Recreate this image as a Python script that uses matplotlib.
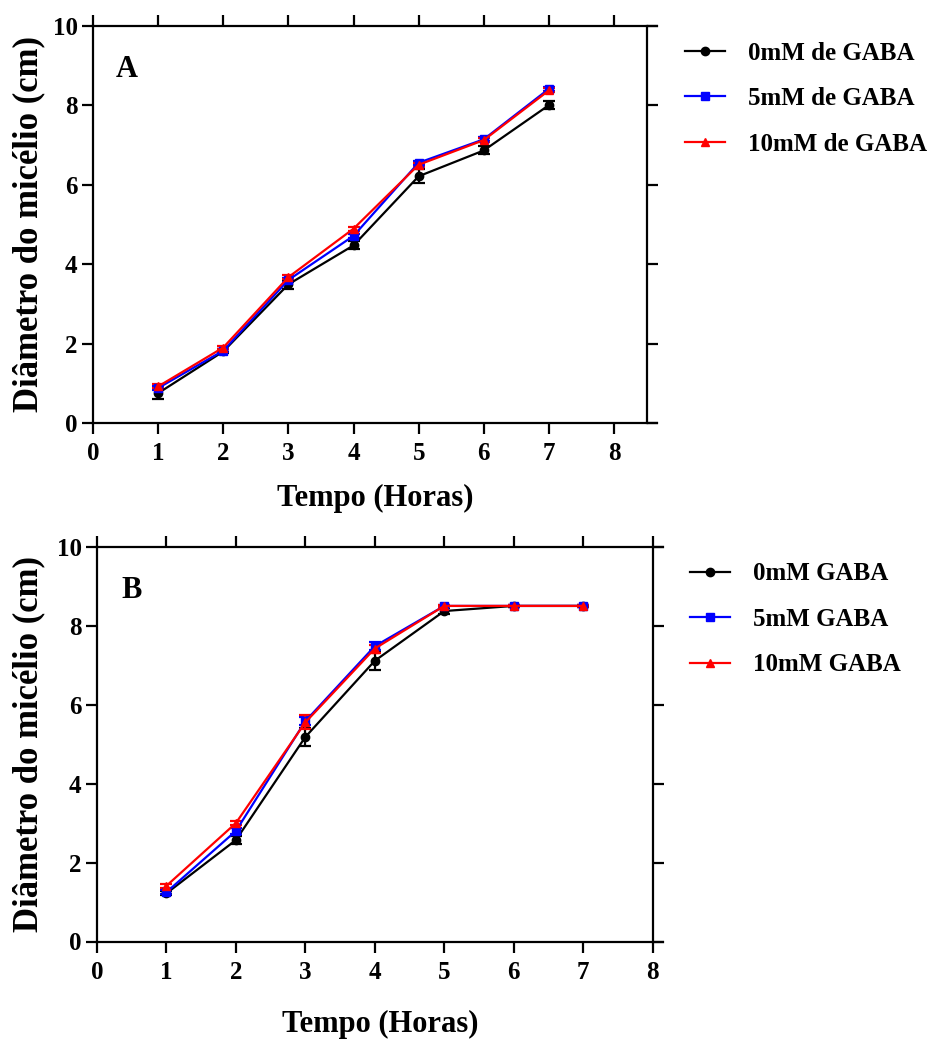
import numpy as np
import matplotlib
matplotlib.use('Agg')
import matplotlib.pyplot as plt
from matplotlib.lines import Line2D

plt.rcParams['font.family'] = ['Liberation Serif', 'DejaVu Serif']
plt.rcParams['font.weight'] = 'bold'

horas = [1, 2, 3, 4, 5, 6, 7]

# painel A
a_0mM = [0.75, 1.80, 3.49, 4.47, 6.21, 6.86, 8.00]
a_0mM_err = [0.15, 0.05, 0.12, 0.10, 0.18, 0.10, 0.10]
a_5mM = [0.88, 1.82, 3.60, 4.71, 6.55, 7.14, 8.41]
a_5mM_err = [0.05, 0.03, 0.05, 0.05, 0.05, 0.05, 0.05]
a_10mM = [0.92, 1.90, 3.67, 4.89, 6.50, 7.12, 8.37]
a_10mM_err = [0.05, 0.03, 0.05, 0.05, 0.05, 0.05, 0.05]
labels_a = ['0mM de GABA', '5mM de GABA', '10mM de GABA']

# painel B
b_0mM = [1.22, 2.57, 5.18, 7.11, 8.37, 8.50, 8.50]
b_0mM_err = [0.05, 0.10, 0.22, 0.24, 0.08, 0.02, 0.02]
b_5mM = [1.25, 2.80, 5.58, 7.48, 8.50, 8.50, 8.50]
b_5mM_err = [0.05, 0.08, 0.10, 0.10, 0.02, 0.02, 0.02]
b_10mM = [1.41, 3.00, 5.55, 7.42, 8.50, 8.50, 8.50]
b_10mM_err = [0.05, 0.05, 0.18, 0.10, 0.02, 0.02, 0.02]
labels_b = ['0mM GABA', '5mM GABA', '10mM GABA']

colors = ['black', 'blue', 'red']
markers = ['o', 's', '^']

W, H = 931, 1044
fig = plt.figure(figsize=(W / 100, H / 100), dpi=100)


def painel(rect, series, errs, labels, xmax, xspine, letra, leg_anchor, xpad, ypad):
    ax = fig.add_axes(rect)
    for y, e, c, m in zip(series, errs, colors, markers):
        ax.errorbar(horas, y, yerr=e, color=c, marker=m, markersize=6,
                    lw=1.6, capsize=4, capthick=1.6, elinewidth=1.6)
    ax.set_xlim(0, xmax)
    ax.set_ylim(0, 10)
    ax.set_xticks(range(0, 9))
    ax.set_yticks(range(0, 11, 2))
    for s in ['left', 'top', 'bottom']:
        ax.spines[s].set_linewidth(1.6)
    ax.spines['right'].set_visible(False)
    ax.tick_params(direction='out', length=8, width=1.6, labelsize=18,
                   top=True, right=False)
    ax.tick_params(axis='x', pad=6)
    ax.tick_params(axis='y', pad=3)
    sec = ax.secondary_yaxis(xspine / xmax)
    sec.set_yticks(range(0, 11, 2))
    sec.set_yticklabels([])
    sec.spines['right'].set_linewidth(1.6)
    sec.tick_params(direction='out', length=8, width=1.6)
    ax.set_xlabel('Tempo (Horas)', fontsize=22, fontweight='bold', labelpad=xpad)
    ax.set_ylabel('Diâmetro do micélio (cm)', fontsize=25, fontweight='bold', labelpad=ypad)
    ax.text(0.35, 8.7, letra, fontsize=22, fontweight='bold')
    handles = [Line2D([], [], color=c, marker=m, markersize=6, lw=1.6)
               for c, m in zip(colors, markers)]
    ax.legend(handles, labels, loc='upper left', bbox_to_anchor=leg_anchor,
              frameon=False, fontsize=18, handlelength=1.6, handletextpad=0.9,
              labelspacing=0.9, borderaxespad=0, borderpad=0)
    return ax


rect_a = [93 / W, 1 - 423 / H, (657 - 93) / W, (423 - 25.7) / H]
rect_b = [97 / W, 1 - 941.5 / H, (663 - 97) / W, (941.5 - 546.7) / H]

painel(rect_a, [a_0mM, a_5mM, a_10mM], [a_0mM_err, a_5mM_err, a_10mM_err],
       labels_a, 8.66, 8.5, 'A', (1.05, 0.96), 13, 5)
painel(rect_b, [b_0mM, b_5mM, b_10mM], [b_0mM_err, b_5mM_err, b_10mM_err],
       labels_b, 8.15, 8.0, 'B', (1.048, 0.96), 19, 8)

fig.savefig('out.png', dpi=100)
